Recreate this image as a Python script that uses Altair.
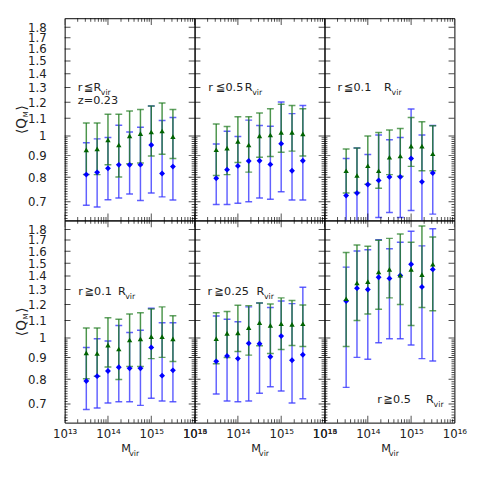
import altair as alt
import pandas as pd

# halo mass bins (log10 M_vir)
LOG_M = [13.5, 13.75, 14.0, 14.25, 14.5, 14.75, 15.0, 15.25, 15.5]

# ---- top-left: r <= Rvir
TL_BLUE = [0.811, 0.821, 0.839, 0.855, 0.855, 0.856, 0.952, 0.816, 0.847]
TL_BLUE_HI = [0.964, 0.984, 0.991, 1.059, 1.021, 1.048, 1.176, 1.087, 1.105]
TL_BLUE_LO = [0.687, 0.681, 0.708, 0.715, 0.730, 0.705, 0.734, 0.719, 0.707]
TL_GREEN = [0.927, 0.932, 0.979, 0.952, 1.000, 1.012, 1.021, 1.027, 0.996]
TL_GREEN_HI = [1.072, 1.072, 1.124, 1.124, 1.144, 1.154, 1.176, 1.195, 1.154]
TL_GREEN_LO = [0.812, 0.811, 0.855, 0.801, 0.860, 0.864, 0.897, 0.906, 0.885]

# ---- top-middle: r <= 0.5 Rvir
TM_BLUE = [0.795, 0.833, 0.850, 0.873, 0.874, 0.857, 0.959, 0.828, 0.874]
TM_BLUE_HI = [0.957, 1.025, 0.997, 1.089, 1.058, 1.054, 1.201, 1.128, 1.179]
TM_BLUE_LO = [0.690, 0.690, 0.695, 0.700, 0.715, 0.710, 0.739, 0.707, 0.707]
TM_GREEN = [0.928, 0.936, 0.971, 0.952, 1.000, 1.005, 1.019, 1.019, 1.011]
TM_GREEN_HI = [1.067, 1.052, 1.109, 1.109, 1.132, 1.158, 1.187, 1.179, 1.158]
TM_GREEN_LO = [0.807, 0.811, 0.866, 0.822, 0.891, 0.895, 0.915, 0.921, 0.897]

# ---- top-right: r <= 0.1 Rvir
TR_BLUE = [0.724, 0.734, 0.769, 0.786, 0.801, 0.801, 0.885, 0.780, 0.818]
TR_BLUE_HI = [0.885, 0.937, 0.904, 1.005, 0.979, 0.991, 1.156, 1.005, 1.058]
TR_BLUE_LO = [0.600, 0.600, 0.600, 0.643, 0.661, 0.643, 0.668, 0.600, 0.655]
TR_GREEN = [0.828, 0.807, 0.851, 0.828, 0.891, 0.897, 0.946, 0.946, 0.908]
TR_GREEN_HI = [0.932, 0.937, 0.999, 1.018, 1.032, 1.041, 1.105, 1.080, 1.056]
TR_GREEN_LO = [0.734, 0.736, 0.770, 0.753, 0.811, 0.804, 0.848, 0.828, 0.828]

# ---- bottom-left: r >= 0.1 Rvir
BL_BLUE = [0.793, 0.814, 0.837, 0.854, 0.849, 0.849, 0.951, 0.816, 0.840]
BL_BLUE_HI = [0.950, 0.996, 0.984, 1.071, 1.031, 1.044, 1.175, 1.087, 1.087]
BL_BLUE_LO = [0.680, 0.685, 0.704, 0.709, 0.709, 0.695, 0.722, 0.712, 0.709]
BL_GREEN = [0.923, 0.920, 0.963, 0.943, 0.990, 0.996, 1.008, 1.008, 0.996]
BL_GREEN_HI = [1.056, 1.056, 1.116, 1.108, 1.139, 1.147, 1.171, 1.184, 1.129]
BL_GREEN_LO = [0.803, 0.814, 0.855, 0.799, 0.858, 0.858, 0.895, 0.901, 0.881]

# ---- bottom-middle: r >= 0.25 Rvir
BM_BLUE = [0.882, 0.908, 0.895, 0.972, 0.970, 0.904, 1.011, 0.887, 0.914]
BM_BLUE_HI = [1.127, 1.108, 1.092, 1.184, 1.209, 1.180, 1.222, 1.205, 1.317]
BM_BLUE_LO = [0.739, 0.712, 0.709, 0.712, 0.742, 0.769, 0.751, 0.704, 0.720]
BM_GREEN = [0.997, 1.026, 1.029, 1.058, 1.087, 1.071, 1.081, 1.077, 1.081]
BM_GREEN_HI = [1.147, 1.155, 1.194, 1.192, 1.209, 1.202, 1.243, 1.226, 1.196]
BM_GREEN_LO = [0.870, 0.900, 0.930, 0.912, 0.960, 0.920, 0.940, 0.961, 0.956]

# ---- bottom-right: r >= 0.5 Rvir
BR_BLUE = [1.222, 1.310, 1.301, 1.390, 1.381, 1.403, 1.491, 1.319, 1.450]
BR_BLUE_HI = [1.468, 1.602, 1.613, 1.703, 1.622, 1.679, 1.782, 1.647, 1.807]
BR_BLUE_LO = [0.766, 0.901, 0.892, 0.975, 0.997, 0.997, 0.963, 0.895, 0.884]
BR_GREEN = [1.237, 1.347, 1.357, 1.430, 1.450, 1.405, 1.450, 1.410, 1.491]
BR_GREEN_HI = [1.589, 1.654, 1.644, 1.697, 1.715, 1.757, 1.679, 1.833, 1.727]
BR_GREEN_LO = [0.956, 1.100, 1.139, 1.169, 1.243, 1.200, 1.071, 1.180, 1.159]

# axis tick values and labels
X_TICK_VALUES = [1e13, 1e14, 1e15, 1e16]
X_TICK_LABELS = ["10¹³", "10¹⁴", "10¹⁵", "10¹⁶"]
Y_TICK_VALUES = [0.7, 0.8, 0.9, 1.0, 1.1, 1.2, 1.3, 1.4, 1.5, 1.6, 1.7, 1.8]
Y_MINOR = [round(0.64 + 0.01 * i, 2) for i in range(36)]
X_MINOR = [k * 10.0 ** e for e in (13, 14, 15) for k in range(2, 10)]

# panel annotation pieces: (text, x, y, fontsize)
LABELS = [
    [("r", 13.5, 74.5, 11.5), ("≦", 19.8, 74.5, 11.5), ("R", 29.5, 74.5, 11.5), ("vir", 37, 78.5, 8),
     ("z=0.23", 13.5, 88, 11.5)],
    [("r", 14, 74.5, 11.5), ("≦0.5", 22, 74.5, 11.5), ("R", 51.3, 74.5, 11.5), ("vir", 59, 78.5, 8)],
    [("r", 13.4, 74.5, 11.5), ("≦0.1", 20, 74.5, 11.5), ("R", 61, 74.5, 11.5), ("vir", 68.7, 78.5, 8)],
    [("r", 13.8, 76, 11.5), ("≧0.1", 20.5, 76, 11.5), ("R", 54.5, 76, 11.5), ("vir", 62, 80, 8)],
    [("r", 13.3, 76, 11.5), ("≧0.25", 20.5, 76, 11.5), ("R", 63.3, 76, 11.5), ("vir", 71, 80, 8)],
    [("r", 54, 186.5, 11.5), ("≧0.5", 60.5, 186.5, 11.5), ("R", 104, 186.5, 11.5), ("vir", 111.7, 190.5, 8)],
]

PANELS = [
    (TL_BLUE, TL_BLUE_LO, TL_BLUE_HI, TL_GREEN, TL_GREEN_LO, TL_GREEN_HI),
    (TM_BLUE, TM_BLUE_LO, TM_BLUE_HI, TM_GREEN, TM_GREEN_LO, TM_GREEN_HI),
    (TR_BLUE, TR_BLUE_LO, TR_BLUE_HI, TR_GREEN, TR_GREEN_LO, TR_GREEN_HI),
    (BL_BLUE, BL_BLUE_LO, BL_BLUE_HI, BL_GREEN, BL_GREEN_LO, BL_GREEN_HI),
    (BM_BLUE, BM_BLUE_LO, BM_BLUE_HI, BM_GREEN, BM_GREEN_LO, BM_GREEN_HI),
    (BR_BLUE, BR_BLUE_LO, BR_BLUE_HI, BR_GREEN, BR_GREEN_LO, BR_GREEN_HI),
]

W, H = 133, 207
FONT = "DejaVu Sans"
TXT = "#222222"
BLUE_BAR = "#3a3aff"
BLUE_PT = "#0000ff"
GREEN_BAR = "#1f7a1f"
GREEN_PT = "#006400"

xscale = alt.Scale(type="log", domain=[1e13, 1e16], nice=False)
yscale = alt.Scale(type="log", domain=[0.633, 1.89], nice=False)

label_expr = " : ".join(
    f"datum.value < {v * 3:.0e} ? '{t}'" for v, t in zip(X_TICK_VALUES[:-1], X_TICK_LABELS[:-1])
) + f" : '{X_TICK_LABELS[-1]}'"

x_axis = alt.Axis(values=X_TICK_VALUES, labelExpr=label_expr, ticks=False, domain=False, grid=False,
                  labelPadding=6, labelFontSize=12, labelFont=FONT, labelColor=TXT,
                  labelFlush=False, labelOverlap=False, title=None)
y_axis = alt.Axis(values=Y_TICK_VALUES, format="~g", ticks=False, domain=False, grid=False,
                  labelPadding=19, labelFontSize=12, labelFont=FONT, labelColor=TXT,
                  labelOverlap=False, title=None)

Y_MINOR_ONLY = [v for v in Y_MINOR if round(v * 10) != v * 10]
ytick_df = pd.DataFrame({"v": Y_TICK_VALUES + Y_MINOR_ONLY,
                         "s": [12] * len(Y_TICK_VALUES) + [6] * len(Y_MINOR_ONLY)})
xtick_df = pd.DataFrame({"v": X_TICK_VALUES + X_MINOR,
                         "s": [14] * len(X_TICK_VALUES) + [7] * len(X_MINOR)})


def text(s, x, y, size, angle=None, align="left"):
    kw = dict(align=align, baseline="alphabetic", fontSize=size, font=FONT, color=TXT)
    if angle:
        kw["angle"] = angle
    return alt.Chart(pd.DataFrame({"t": [s]})).mark_text(**kw).encode(
        text="t:N", x=alt.value(x), y=alt.value(y))


def panel(i):
    row, col = divmod(i, 3)
    b, bl, bh, g, gl, gh = PANELS[i]
    df = pd.DataFrame({"m": [10 ** v for v in LOG_M], "b": b, "bl": bl, "bh": bh,
                       "g": g, "gl": gl, "gh": gh})
    xa = x_axis if row == 1 else None
    ya = y_axis if col == 0 else None
    X = alt.X("m:Q", scale=xscale, axis=xa)
    base = alt.Chart(df)

    def Y(f):
        return alt.Y(f + ":Q", scale=yscale, axis=ya)

    layers = [
        base.mark_rule(clip=True, color=BLUE_BAR, strokeWidth=1.5, opacity=0.8).encode(
            x=X, y=Y("bl"), y2="bh:Q"),
        base.mark_tick(clip=True, orient="horizontal", size=7, thickness=1.5, color=BLUE_BAR,
                       opacity=0.8).encode(x=X, y=Y("bl")),
        base.mark_tick(clip=True, orient="horizontal", size=7, thickness=1.5, color=BLUE_BAR,
                       opacity=0.8).encode(x=X, y=Y("bh")),
        base.mark_rule(clip=True, color=GREEN_BAR, strokeWidth=1.5, opacity=0.8).encode(
            x=X, y=Y("gl"), y2="gh:Q"),
        base.mark_tick(clip=True, orient="horizontal", size=7, thickness=1.5, color=GREEN_BAR,
                       opacity=0.7).encode(x=X, y=Y("gl")),
        base.mark_tick(clip=True, orient="horizontal", size=7, thickness=1.5, color=GREEN_BAR,
                       opacity=0.7).encode(x=X, y=Y("gh")),
        base.mark_point(shape="diamond", filled=True, size=36, color=BLUE_PT, opacity=1).encode(
            x=X, y=Y("b")),
        base.mark_point(shape="triangle-up", filled=True, size=30, color=GREEN_PT, opacity=1).encode(
            x=X, y=Y("g")),
    ]
    # inward axis ticks on all four sides
    yt = alt.Chart(ytick_df)
    xt = alt.Chart(xtick_df)
    for xv in (0, W):
        layers.append(yt.mark_tick(clip=True, orient="horizontal", thickness=1, color="black").encode(
            y=alt.Y("v:Q", scale=yscale, axis=ya), x=alt.value(xv), size=alt.Size("s:Q", scale=None)))
    for yv in (0, H):
        layers.append(xt.mark_tick(clip=True, orient="vertical", thickness=1, color="black").encode(
            x=alt.X("v:Q", scale=xscale, axis=xa), y=alt.value(yv), size=alt.Size("s:Q", scale=None)))
    for s, x, y, fs in LABELS[i]:
        layers.append(text(s, x, y, fs))
    if col == 0:
        layers.append(text("⟨Q", -40, 118.5, 14, angle=270))
        layers.append(text("M", -38, 101.5, 7, angle=270))
        layers.append(text("⟩", -40, 94.5, 14, angle=270))
    if row == 1:
        layers.append(text("M", W / 2 - 8.5, H + 30, 11.5))
        layers.append(text("vir", W / 2 - 0.5, H + 34, 8))
    return alt.layer(*layers).properties(width=W, height=H)


chart = alt.concat(*[panel(i) for i in range(6)], columns=3, spacing=0, bounds="flush").properties(
    padding={"left": 6, "top": 4, "right": 5, "bottom": 5}
).configure_view(stroke="black", strokeWidth=1)

chart.save("out.html", embed_options={"renderer": "svg", "actions": False})
